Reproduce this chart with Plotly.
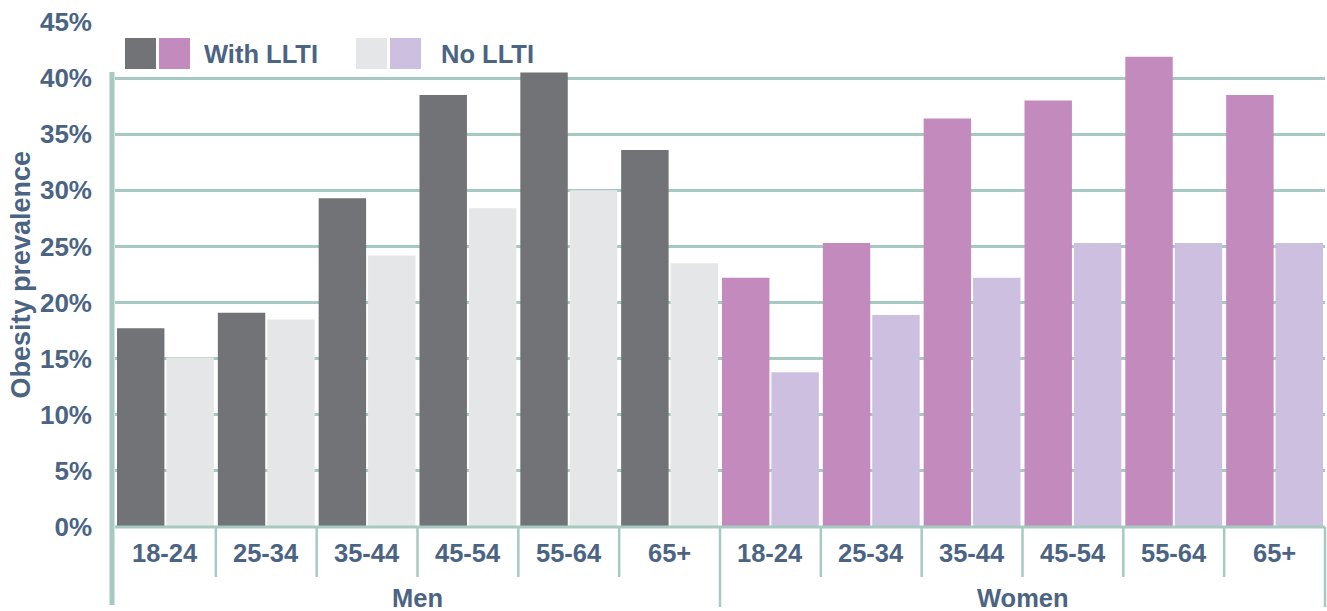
import plotly.graph_objects as go

# ---- data ----
sexes = ["Men"] * 6 + ["Women"] * 6
ages = ["18-24", "25-34", "35-44", "45-54", "55-64", "65+"] * 2
with_llti = [17.7, 19.1, 29.3, 38.5, 40.5, 33.6, 22.2, 25.3, 36.4, 38.0, 41.9, 38.5]
no_llti = [15.1, 18.5, 24.2, 28.4, 30.0, 23.5, 13.8, 18.9, 22.2, 25.3, 25.3, 25.3]
y_ticks = [0, 5, 10, 15, 20, 25, 30, 35, 40, 45]

# ---- style ----
DARK, PINK = "#727377", "#c28abd"
LGREY, LAV = "#e5e6e8", "#cdbfe0"
TEAL = "#a6c9c1"
TXT = "#4b6483"
FONT = "Liberation Sans, Arial, sans-serif"

def F(size):
    return dict(size=size, color=TXT, family=FONT, weight="bold")

W, H = 1327, 611
ML, MR, MT, MB = 115, 2, 22, 84
PW, PH = W - ML - MR, H - MT - MB

def px(xp):
    return (xp - ML) / PW

def py(yp):
    return (H - MB - yp) / PH

n = len(ages)
xs = list(range(n))
col_with = [DARK if s == "Men" else PINK for s in sexes]
col_no = [LGREY if s == "Men" else LAV for s in sexes]

fig = go.Figure()
fig.add_trace(go.Bar(x=xs, y=with_llti, name="With LLTI", marker=dict(color=col_with, line_width=0)))
fig.add_trace(go.Bar(x=xs, y=no_llti, name="No LLTI", marker=dict(color=col_no, line_width=0)))

shapes = []
# baseline
shapes.append(dict(type="line", xref="paper", yref="paper", x0=0, x1=1, y0=0, y1=0,
                   line=dict(color=TEAL, width=3)))
# left axis line
shapes.append(dict(type="line", xref="paper", yref="paper", x0=px(112), x1=px(112),
                   y0=py(605), y1=py(72), line=dict(color=TEAL, width=5)))
# dividers
for i in range(1, n + 1):
    outer = (i == n) or (sexes[i] != sexes[i - 1])
    shapes.append(dict(type="line", xref="paper", yref="paper", x0=i / n, x1=i / n,
                       y0=0, y1=py(607 if outer else 577), line=dict(color=TEAL, width=2.5)))

annotations = []
for i, a in enumerate(ages):
    annotations.append(dict(x=i, xref="x", y=0, yref="paper", yshift=-26, text=a,
                            showarrow=False, yanchor="middle", font=F(25.5)))
groups = []
for s in sexes:
    if s not in groups:
        groups.append(s)
for g in groups:
    idx = [i for i, s in enumerate(sexes) if s == g]
    cx = (idx[0] + idx[-1]) / 2
    annotations.append(dict(x=cx, xref="x", y=0, yref="paper", yshift=-71, text=g,
                            showarrow=False, yanchor="middle", font=F(25.5)))
# y title
annotations.append(dict(x=0, xref="paper", xshift=-95, y=0.5, yref="paper", text="Obesity prevalence",
                        textangle=-90, showarrow=False, xanchor="center", yanchor="middle",
                        font=F(27)))

# custom legend
def swatch(x0, color):
    shapes.append(dict(type="rect", xref="paper", yref="paper", x0=px(x0), x1=px(x0 + 31),
                       y0=py(69), y1=py(38), fillcolor=color, line_width=0))
swatch(125, DARK); swatch(159, PINK)
swatch(356, LGREY); swatch(390, LAV)
annotations.append(dict(x=px(202), xref="paper", y=py(54), yref="paper", text="With LLTI", showarrow=False,
                        xanchor="left", yanchor="middle", font=F(25.5)))
annotations.append(dict(x=px(439), xref="paper", y=py(54), yref="paper", text="No LLTI", showarrow=False,
                        xanchor="left", yanchor="middle", font=F(25.5)))

fig.update_layout(
    width=W, height=H,
    margin=dict(l=ML, r=MR, t=MT, b=MB),
    paper_bgcolor="white", plot_bgcolor="white",
    barmode="group", bargap=0.02, bargroupgap=0.04,
    showlegend=False,
    font=F(24),
    xaxis=dict(range=[-0.5, n - 0.5], showticklabels=False, showgrid=False, zeroline=False,
               showline=False, ticks=""),
    yaxis=dict(range=[0, 45], tickvals=y_ticks, ticktext=[f"{v}%" for v in y_ticks],
               showgrid=True, gridcolor=TEAL, gridwidth=2.5, zeroline=False, showline=False,
               ticks="", ticklabelstandoff=22, tickfont=F(26)),
    shapes=shapes, annotations=annotations,
)

fig.write_html("out.html")
